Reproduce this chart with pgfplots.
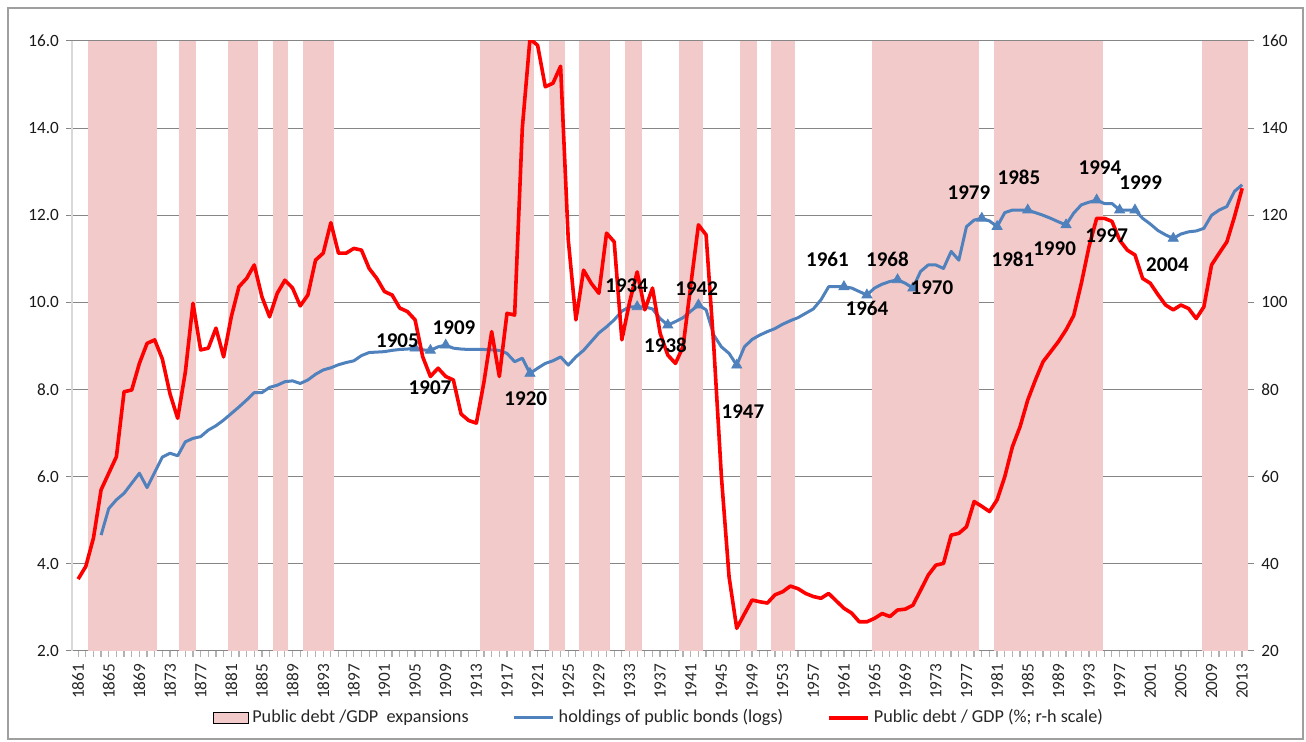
\documentclass[border=0pt]{standalone}
\usepackage{fontspec}
\setmainfont{Carlito}
\usepackage{pgfplots}
\pgfplotsset{compat=1.18}
\definecolor{bblue}{RGB}{79,129,189}
\definecolor{rred}{RGB}{255,0,0}
\definecolor{shade}{RGB}{243,202,202}
\definecolor{gridc}{RGB}{134,134,134}
\pgfplotstableread{
x y
1864 4.66
1865 5.27
1866 5.47
1867 5.62
1868 5.85
1869 6.08
1870 5.75
1871 6.10
1872 6.45
1873 6.54
1874 6.48
1875 6.80
1876 6.88
1877 6.92
1878 7.07
1879 7.17
1880 7.30
1881 7.45
1882 7.60
1883 7.76
1884 7.93
1885 7.93
1886 8.05
1887 8.10
1888 8.18
1889 8.20
1890 8.14
1891 8.22
1892 8.35
1893 8.45
1894 8.50
1895 8.57
1896 8.62
1897 8.66
1898 8.78
1899 8.85
1900 8.86
1901 8.87
1902 8.90
1903 8.92
1904 8.93
1905 8.95
1906 8.91
1907 8.90
1908 8.98
1909 9.02
1910 8.95
1911 8.93
1912 8.92
1913 8.92
1914 8.92
1915 8.91
1916 8.90
1917 8.83
1918 8.64
1919 8.72
1920 8.37
1921 8.49
1922 8.60
1923 8.66
1924 8.75
1925 8.56
1926 8.75
1927 8.90
1928 9.10
1929 9.30
1930 9.44
1931 9.60
1932 9.80
1933 9.90
1934 9.90
1935 9.90
1936 9.85
1937 9.63
1938 9.48
1939 9.56
1940 9.65
1941 9.80
1942 9.94
1943 9.83
1944 9.25
1945 8.98
1946 8.83
1947 8.56
1948 8.98
1949 9.15
1950 9.25
1951 9.33
1952 9.40
1953 9.50
1954 9.58
1955 9.65
1956 9.75
1957 9.85
1958 10.06
1959 10.36
1960 10.36
1961 10.36
1962 10.33
1963 10.25
1964 10.17
1965 10.33
1966 10.42
1967 10.48
1968 10.52
1969 10.44
1970 10.33
1971 10.71
1972 10.86
1973 10.86
1974 10.78
1975 11.17
1976 10.97
1977 11.74
1978 11.89
1979 11.93
1980 11.87
1981 11.74
1982 12.06
1983 12.12
1984 12.12
1985 12.12
1986 12.06
1987 12.00
1988 11.93
1989 11.85
1990 11.78
1991 12.05
1992 12.24
1993 12.30
1994 12.35
1995 12.27
1996 12.27
1997 12.12
1998 12.12
1999 12.12
2000 11.93
2001 11.80
2002 11.65
2003 11.55
2004 11.47
2005 11.57
2006 11.62
2007 11.64
2008 11.70
2009 12.00
2010 12.12
2011 12.20
2012 12.55
2013 12.70
}\bonds
\pgfplotstableread{
x y
1861 36.5
1862 39.4
1863 45.9
1864 57
1865 60.8
1866 64.6
1867 79.5
1868 79.9
1869 86
1870 90.6
1871 91.4
1872 87
1873 79
1874 73.4
1875 84
1876 99.8
1877 89.1
1878 89.5
1879 94.1
1880 87.5
1881 96.7
1882 103.6
1883 105.5
1884 108.6
1885 101.3
1886 96.7
1887 102.1
1888 105.1
1889 103.3
1890 99.2
1891 101.7
1892 109.7
1893 111.3
1894 118.3
1895 111.3
1896 111.3
1897 112.4
1898 112
1899 107.8
1900 105.5
1901 102.5
1902 101.7
1903 98.7
1904 97.9
1905 96
1906 87.5
1907 83
1908 84.9
1909 83
1910 82.2
1911 74.4
1912 72.9
1913 72.3
1914 81.8
1915 93.3
1916 83
1917 97.5
1918 97.1
1919 140
1920 160.5
1921 159
1922 149.5
1923 150.3
1924 154.2
1925 114.4
1926 96
1927 107.4
1928 104.4
1929 102.1
1930 115.9
1931 113.9
1932 91.4
1933 100
1934 107
1935 98.3
1936 103.3
1937 92.9
1938 87.9
1939 86
1940 89.9
1941 104
1942 117.8
1943 115.5
1944 90
1945 60
1946 37
1947 25.2
1948 28.5
1949 31.7
1950 31.3
1951 31
1952 32.9
1953 33.6
1954 34.9
1955 34.3
1956 33.2
1957 32.5
1958 32.1
1959 33.2
1960 31.5
1961 29.8
1962 28.7
1963 26.7
1964 26.7
1965 27.5
1966 28.6
1967 27.9
1968 29.4
1969 29.6
1970 30.5
1971 33.9
1972 37.4
1973 39.7
1974 40.1
1975 46.6
1976 47
1977 48.5
1978 54.3
1979 53.2
1980 52
1981 54.7
1982 60
1983 66.9
1984 71.5
1985 77.6
1986 82.2
1987 86.4
1988 88.7
1989 91
1990 93.7
1991 97
1992 104.4
1993 112.8
1994 119.3
1995 119.3
1996 118.6
1997 114.3
1998 112
1999 110.9
2000 105.5
2001 104.4
2002 101.8
2003 99.4
2004 98.3
2005 99.4
2006 98.6
2007 96.3
2008 99
2009 108.6
2010 111.3
2011 113.9
2012 119.7
2013 126.2
}\debt
\begin{document}
\begin{tikzpicture}
\useasboundingbox (-36pt,-45.5pt) rectangle (617pt,325.5pt);
\draw[gray!75, line width=1pt] (-32.25pt,-44.25pt) rectangle (615.25pt,321.25pt);
\begin{axis}[
  at={(0pt,0pt)}, anchor=south west,
  scale only axis, width=588.15pt, height=305pt,
  xmin=1860.2, xmax=2013.8, ymin=2, ymax=16,
  axis x line*=bottom, axis y line*=left,
  x axis line style={draw=gridc, line width=0.5pt},
  y axis line style={draw=gray!30, line width=1.2pt},
  xtick={1861,1865,...,2013},
  minor xtick={1861,1862,...,2013},
  ytick={2,4,...,16},
  tick align=outside,
  major tick length=3pt, minor tick length=3pt,
  every tick/.style={draw=gray!60, line width=0.6pt},
  ytick style={draw=gridc, line width=0.5pt},
  ymajorgrids, grid style={draw=gridc, line width=0.5pt},
  /pgf/number format/assume math mode=true,
  x tick label style={rotate=90, anchor=east, font=\fontsize{8.6}{10}\selectfont, text=black!85, /pgf/number format/1000 sep={}},
  y tick label style={font=\fontsize{8.6}{10}\selectfont, text=black!90, /pgf/number format/fixed, /pgf/number format/fixed zerofill, /pgf/number format/precision=1},
]
\addplot[fill=shade, draw=none, forget plot] coordinates {(1862.33,2) (1862.33,16) (1871.26,16) (1871.26,2)} -- cycle;
\addplot[fill=shade, draw=none, forget plot] coordinates {(1874.21,2) (1874.21,16) (1876.39,16) (1876.39,2)} -- cycle;
\addplot[fill=shade, draw=none, forget plot] coordinates {(1880.53,2) (1880.53,16) (1884.45,16) (1884.45,2)} -- cycle;
\addplot[fill=shade, draw=none, forget plot] coordinates {(1886.49,2) (1886.49,16) (1888.37,16) (1888.37,2)} -- cycle;
\addplot[fill=shade, draw=none, forget plot] coordinates {(1890.36,2) (1890.36,16) (1894.45,16) (1894.45,2)} -- cycle;
\addplot[fill=shade, draw=none, forget plot] coordinates {(1913.51,2) (1913.51,16) (1920.56,16) (1920.56,2)} -- cycle;
\addplot[fill=shade, draw=none, forget plot] coordinates {(1922.44,2) (1922.44,16) (1924.57,16) (1924.57,2)} -- cycle;
\addplot[fill=shade, draw=none, forget plot] coordinates {(1926.44,2) (1926.44,16) (1930.45,16) (1930.45,2)} -- cycle;
\addplot[fill=shade, draw=none, forget plot] coordinates {(1932.41,2) (1932.41,16) (1934.59,16) (1934.59,2)} -- cycle;
\addplot[fill=shade, draw=none, forget plot] coordinates {(1939.47,2) (1939.47,16) (1942.60,16) (1942.60,2)} -- cycle;
\addplot[fill=shade, draw=none, forget plot] coordinates {(1947.46,2) (1947.46,16) (1949.60,16) (1949.60,2)} -- cycle;
\addplot[fill=shade, draw=none, forget plot] coordinates {(1951.47,2) (1951.47,16) (1954.60,16) (1954.60,2)} -- cycle;
\addplot[fill=shade, draw=none, forget plot] coordinates {(1964.70,2) (1964.70,16) (1978.67,16) (1978.67,2)} -- cycle;
\addplot[fill=shade, draw=none, forget plot] coordinates {(1980.59,2) (1980.59,16) (1994.78,16) (1994.78,2)} -- cycle;
\addplot[fill=shade, draw=none, forget plot] coordinates {(2007.78,2) (2007.78,16) (2013.8,16) (2013.8,2)} -- cycle;
\addplot[bblue, line width=1.5pt, mark=none, line join=round] table[x=x,y=y] {\bonds};
\addplot[only marks, mark=triangle*, mark size=2.9pt, color=bblue] coordinates {
(1905,8.95) (1907,8.90) (1909,9.02) (1920,8.37) (1934,9.90) (1938,9.48) (1942,9.94) (1947,8.56)
(1961,10.36) (1964,10.17) (1968,10.52) (1970,10.33) (1979,11.93) (1981,11.74) (1985,12.12)
(1990,11.78) (1994,12.35) (1997,12.12) (1999,12.12) (2004,11.47)};
\end{axis}
\begin{axis}[
  at={(0pt,0pt)}, anchor=south west,
  scale only axis, width=588.15pt, height=305pt,
  xmin=1860.2, xmax=2013.8, ymin=20, ymax=160,
  axis x line=none, axis y line*=right,
  y axis line style={draw=none},
  ytick={20,40,...,160},
  tick align=outside, major tick length=3pt,
  ytick style={draw=gridc, line width=0.5pt},
  /pgf/number format/assume math mode=true,
  y tick label style={font=\fontsize{8.6}{10}\selectfont, text=black!90},
  legend columns=3,
  legend style={draw=none, fill=none, at={(0.5,-0.1095)}, anchor=center,
    font=\fontsize{9.1}{11}\selectfont, text=black!85,
    /tikz/every even column/.append style={column sep=20pt}},
  legend image code/.code={\draw[#1] (0pt,0pt) -- (19.5pt,0pt);},
]
\addlegendimage{area legend, fill=shade, draw=none}
\addlegendentry{Public debt /GDP\ \ expansions}
\addlegendimage{bblue, line width=1.5pt}
\addlegendentry{holdings of public bonds (logs)}
\addplot[rred, line width=1.8pt, mark=none, line join=round] table[x=x,y=y] {\debt};
\addlegendentry{Public debt / GDP (\%; r-h scale)}
\begin{scope}[every node/.style={font=\bfseries\fontsize{10.5}{12}\selectfont, text=black, inner sep=0pt}]
\node at (axis cs:1902.70,91.15) {1905};
\node at (axis cs:1906.95,80.48) {1907};
\node at (axis cs:1910.08,94.25) {1909};
\node at (axis cs:1919.45,77.84) {1920};
\node at (axis cs:1932.63,103.77) {1934};
\node at (axis cs:1937.70,90.05) {1938};
\node at (axis cs:1941.77,103.08) {1942};
\node at (axis cs:1947.81,74.97) {1947};
\node at (axis cs:1958.85,109.97) {1961};
\node at (axis cs:1964.00,98.72) {1964};
\node at (axis cs:1966.68,109.97) {1968};
\node at (axis cs:1972.49,103.43) {1970};
\node at (axis cs:1977.32,125.23) {1979};
\node at (axis cs:1983.07,109.97) {1981};
\node at (axis cs:1983.85,128.67) {1985};
\node at (axis cs:1988.51,112.26) {1990};
\node at (axis cs:1994.43,130.97) {1994};
\node at (axis cs:1995.30,115.29) {1997};
\node at (axis cs:1999.75,127.53) {1999};
\node at (axis cs:2003.24,108.71) {2004};
\end{scope}
\end{axis}
\end{tikzpicture}
\end{document}
